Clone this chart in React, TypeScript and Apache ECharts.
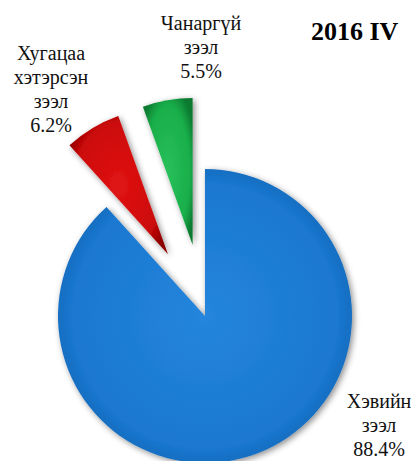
import React, { useEffect, useRef } from "react";
import * as echarts from "echarts";

const categories = ["Хэвийн зээл", "Хугацаа хэтэрсэн зээл", "Чанаргүй зээл"];
const values = [88.4, 6.2, 5.5];
const exploded = [false, true, true];
const titleText = "2016 IV";

const palette = [
  ["#2585dc", "#1a78d0", "#105aa4"],
  ["#e01414", "#cc0808", "#8a0000"],
  ["#28c05a", "#19ae4a", "#0c7a30"],
];
const labelPos = [
  [379, 425],
  [51, 89],
  [201, 47],
];

export default function App() {
  const ref = useRef<HTMLDivElement>(null);
  useEffect(() => {
    if (!ref.current) return;
    const chart = echarts.init(ref.current, null, { renderer: "svg" });
    chart.setOption({
      animation: false,
      backgroundColor: "#ffffff",
      title: {
        text: titleText,
        left: 306,
        top: 13,
        textStyle: {
          fontFamily: "Liberation Serif",
          fontSize: 26,
          fontWeight: "bold",
          color: "#000",
        },
      },
      graphic: categories.map((name, i) => ({
        type: "text",
        x: labelPos[i][0],
        y: labelPos[i][1],
        style: {
          text: name.split(" ").join("\n") + "\n" + values[i].toFixed(1) + "%",
          fontFamily: "Liberation Serif",
          fontSize: 20,
          lineHeight: 24,
          fill: "#111",
          align: "center",
          verticalAlign: "middle",
        },
      })),
      series: [
        {
          type: "pie",
          center: [205, 316],
          radius: [0, 147],
          startAngle: 90,
          clockwise: true,
          selectedMode: "multiple",
          selectedOffset: 72,
          emphasis: { disabled: true },
          label: { show: false },
          labelLine: { show: false },
          data: categories.map((name, i) => ({
            name,
            value: values[i],
            selected: exploded[i],
            itemStyle: {
              color: {
                type: "radial",
                x: 0.5,
                y: 0.5,
                r: 0.6,
                colorStops: [
                  { offset: 0, color: palette[i][0] },
                  { offset: 0.75, color: palette[i][1] },
                  { offset: 1, color: palette[i][2] },
                ],
              },
              shadowBlur: 6,
              shadowColor: "rgba(0,0,0,0.45)",
              shadowOffsetX: 2,
              shadowOffsetY: 2,
            },
          })),
        },
      ],
    });
    return () => chart.dispose();
  }, []);
  return (
    <div
      ref={ref}
      style={{ position: "fixed", left: 0, top: 0, width: 416, height: 461 }}
    />
  );
}
